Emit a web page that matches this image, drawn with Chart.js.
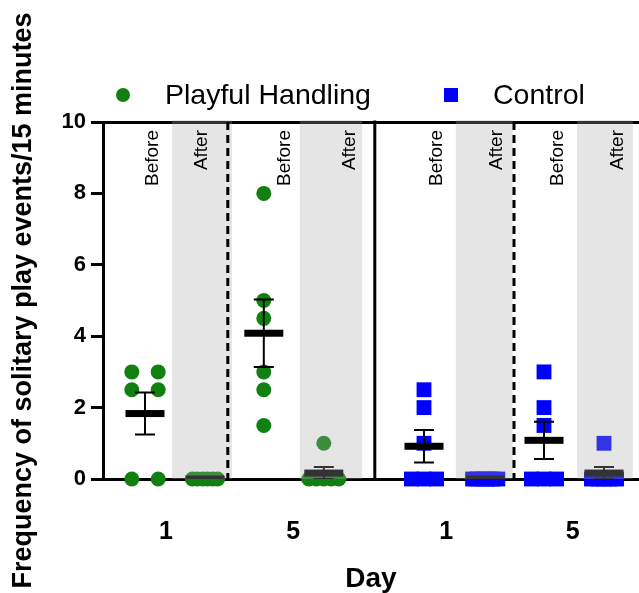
<!DOCTYPE html>
<html>
<head>
<meta charset="utf-8">
<script src="https://cdn.jsdelivr.net/npm/chart.js@4.4.0/dist/chart.umd.min.js"></script>
<style>
  html, body { margin: 0; padding: 0; background: #fff; overflow: hidden; }
  #wrap { width: 639px; height: 593px; position: relative; }
  #wrap canvas { display: block; }
</style>
</head>
<body>
<div id="wrap"><canvas id="c"></canvas></div>
<script>
const FONT = "'Liberation Sans', Arial, Helvetica, sans-serif";
const GREEN = '#108010';
const BLUE = '#0000ff';

// ── Values (frequency / 15 min) ──
const phBefore1 = [3, 3, 2.5, 2.5, 0, 0];
const phAfter1  = [0, 0, 0, 0, 0, 0];
const phBefore5 = [8, 5, 4.5, 3, 2.5, 1.5];
const phAfter5  = [1, 0, 0, 0, 0, 0];
const ctBefore1 = [2.5, 2, 1, 0, 0, 0];
const ctAfter1  = [0, 0, 0, 0, 0, 0];
const ctBefore5 = [3, 2, 1.5, 0, 0, 0];
const ctAfter5  = [1, 0, 0, 0, 0, 0];

const groupNames = ['Playful Handling', 'Control'];
const dayLabels = ['1', '5', '1', '5'];
const phaseTexts = ['Before', 'After', 'Before', 'After', 'Before', 'After', 'Before', 'After'];
const yTicks = [0, 2, 4, 6, 8, 10];

// ── Layout on the x axis (column units) ──
const X_MAX = 536 / 60;
const phCenters = [0.7, 1.7, 2.68, 3.68];
const ctCenters = [5.35, 6.37, 7.35, 8.35];
const dayTickPos = [1.05, 3.17, 5.72, 7.83];
const phasePos = [0.83, 1.65, 3.03, 4.12, 5.57, 6.57, 7.58, 8.58];
const afterBands = [[1.15, 2.15], [3.28, 4.32], [5.88, 6.83], [7.9, 8.83]];
const dashedAt = [2.08, 6.85];
const solidAt = [4.53];

// horizontal spread of overlapping points (Prism style scatter)
const phSpread = [
  [-0.22, 0.22, -0.22, 0.22, -0.22, 0.22],
  [-0.21, -0.13, -0.04, 0.04, 0.13, 0.21],
  [0, 0, 0, 0, 0, 0],
  [0, -0.25, -0.125, 0, 0.125, 0.25]
];
const ctSpread = [
  [0, 0, 0, -0.21, 0, 0.21],
  [-0.21, -0.13, -0.04, 0.04, 0.13, 0.21],
  [0, 0, 0, -0.21, 0, 0.21],
  [0, -0.21, -0.1, 0, 0.1, 0.21]
];

const phCols = [phBefore1, phAfter1, phBefore5, phAfter5];
const ctCols = [ctBefore1, ctAfter1, ctBefore5, ctAfter5];

const mean = a => a.reduce((s, v) => s + v, 0) / a.length;
const sem = a => {
  const m = mean(a);
  return Math.sqrt(a.reduce((s, v) => s + (v - m) ** 2, 0) / (a.length - 1)) / Math.sqrt(a.length);
};

function toPoints(cols, centers, spread) {
  const pts = [];
  cols.forEach((vals, c) => vals.forEach((v, i) => pts.push({ x: centers[c] + spread[c][i], y: v })));
  return pts;
}

const prismPlugin = {
  id: 'prism',
  // Chart.js keeps a few px free on the right; run the plot to the canvas edge
  afterLayout(chart) {
    const a = chart.chartArea, x = chart.scales.x;
    if (a.right < chart.width) {
      a.right = chart.width;
      a.width = a.right - a.left;
      x.right = chart.width;
      x.width = x.right - x.left;
      x.configure();
    }
  },
  // mean ± SEM, clipped to the plot like Prism does
  afterDatasetsDraw(chart) {
    const { ctx, chartArea: a, scales: { x, y } } = chart;
    ctx.save();
    ctx.beginPath();
    ctx.rect(a.left, a.top - 2, a.right - a.left, a.bottom - a.top + 2);
    ctx.clip();
    ctx.fillStyle = '#000';
    ctx.strokeStyle = '#000';
    ctx.lineWidth = 2;
    [[phCols, phCenters], [ctCols, ctCenters]].forEach(([cols, centers]) => cols.forEach((vals, c) => {
      const cx = x.getPixelForValue(centers[c]);
      const m = mean(vals), s = sem(vals);
      const ym = y.getPixelForValue(m);
      if (s > 0) {
        const y1 = y.getPixelForValue(m + s), y0 = y.getPixelForValue(m - s);
        ctx.beginPath();
        ctx.moveTo(cx, y1); ctx.lineTo(cx, y0);
        ctx.moveTo(cx - 10, y1); ctx.lineTo(cx + 10, y1);
        ctx.moveTo(cx - 10, y0); ctx.lineTo(cx + 10, y0);
        ctx.stroke();
      }
      ctx.fillRect(cx - 19.5, ym - 3.5, 39, 7);
    }));
    ctx.restore();
  },
  afterDraw(chart) {
    const { ctx, chartArea: a, scales: { x } } = chart;
    ctx.save();

    // grey "After" bands laid over everything
    ctx.fillStyle = 'rgba(170,170,170,0.3)';
    afterBands.forEach(([l, r]) => {
      const xl = x.getPixelForValue(l), xr = x.getPixelForValue(r);
      ctx.fillRect(xl, a.top - 2, xr - xl, a.bottom - a.top + 2);
    });

    // separators
    ctx.strokeStyle = '#000';
    ctx.lineWidth = 3;
    ctx.setLineDash([8, 5]);
    dashedAt.forEach(v => {
      const px = x.getPixelForValue(v);
      ctx.beginPath(); ctx.moveTo(px, a.top); ctx.lineTo(px, a.bottom); ctx.stroke();
    });
    ctx.setLineDash([]);
    solidAt.forEach(v => {
      const px = x.getPixelForValue(v);
      ctx.beginPath(); ctx.moveTo(px, a.top - 1.5); ctx.lineTo(px, a.bottom); ctx.stroke();
    });

    // Before / After column captions
    ctx.fillStyle = '#000';
    ctx.font = `19px ${FONT}`;
    ctx.textAlign = 'right';
    ctx.textBaseline = 'middle';
    phaseTexts.forEach((t, i) => {
      ctx.save();
      ctx.translate(x.getPixelForValue(phasePos[i]), a.top + 8);
      ctx.rotate(-Math.PI / 2);
      ctx.fillText(t, 0, 0);
      ctx.restore();
    });

    // legend
    ctx.font = `28.5px ${FONT}`;
    ctx.textAlign = 'left';
    ctx.fillStyle = GREEN;
    ctx.beginPath(); ctx.arc(123, 95, 7, 0, Math.PI * 2); ctx.fill();
    ctx.fillStyle = BLUE;
    ctx.fillRect(444, 88, 14, 14);
    ctx.fillStyle = '#000';
    ctx.fillText(groupNames[0], 165, 96);
    ctx.fillText(groupNames[1], 493, 96);
    ctx.restore();
  }
};

new Chart(document.getElementById('c'), {
  type: 'scatter',
  data: {
    datasets: [
      {
        label: groupNames[0],
        data: toPoints(phCols, phCenters, phSpread),
        pointStyle: 'circle',
        pointRadius: 7.5,
        backgroundColor: GREEN,
        borderWidth: 0,
        clip: false
      },
      {
        label: groupNames[1],
        data: toPoints(ctCols, ctCenters, ctSpread),
        pointStyle: 'rect',
        pointRadius: 10.5,
        backgroundColor: BLUE,
        borderWidth: 0,
        clip: false
      }
    ]
  },
  options: {
    responsive: true,
    maintainAspectRatio: false,
    animation: false,
    events: [],
    layout: { padding: { top: 122, right: 0, bottom: 0, left: 0 } },
    plugins: { legend: { display: false }, tooltip: { enabled: false } },
    scales: {
      x: {
        type: 'linear',
        min: 0,
        max: X_MAX,
        z: 1,
        afterBuildTicks: s => { s.ticks = dayTickPos.map(v => ({ value: v })); },
        afterFit: s => { s.height = 114; s.paddingLeft = 0; s.paddingRight = 0; },
        grid: { display: false },
        border: { display: true, color: '#000', width: 3 },
        ticks: {
          autoSkip: false,
          maxRotation: 0,
          padding: 30,
          color: '#000',
          font: { family: FONT, size: 25, weight: 'bold' },
          callback: (v, i) => dayLabels[i]
        },
        title: {
          display: true,
          text: 'Day',
          color: '#000',
          padding: { top: 0, bottom: 0 },
          font: { family: FONT, size: 28, weight: 'bold', lineHeight: 1 }
        }
      },
      y: {
        min: 0,
        max: 10,
        afterBuildTicks: s => { s.ticks = yTicks.map(v => ({ value: v })); },
        afterFit: s => { s.width = 103; },
        grid: {
          display: true,
          drawOnChartArea: true,
          drawTicks: true,
          tickLength: 12,
          lineWidth: 3,
          color: c => (c.tick && c.tick.value === 10 ? '#000' : 'rgba(0,0,0,0)'),
          tickColor: '#000'
        },
        border: { display: true, color: '#000', width: 3 },
        ticks: {
          padding: 5,
          color: '#000',
          font: { family: FONT, size: 22, weight: 'bold' }
        },
        title: {
          display: true,
          text: 'Frequency of solitary play events/15 minutes',
          color: '#000',
          padding: { top: 7, bottom: 0 },
          font: { family: FONT, size: 27, weight: 'bold' }
        }
      }
    }
  },
  plugins: [prismPlugin]
});
</script>
</body>
</html>
